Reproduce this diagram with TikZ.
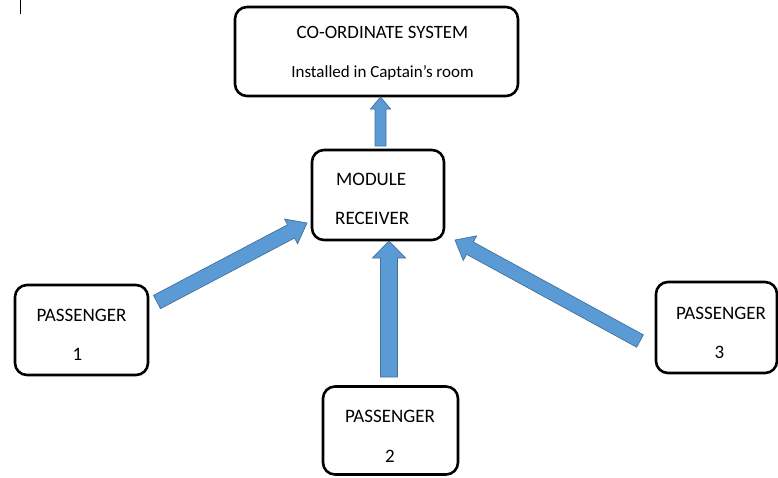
\documentclass[tikz,border=0pt]{standalone}
\usepackage{fontspec}
\setmainfont{Carlito}
\usetikzlibrary{calc}
\definecolor{arrowfill}{HTML}{5B9BD5}
\definecolor{arrowedge}{HTML}{41719C}
\tikzset{
  box/.style={draw=black, line width=2.6pt, rounded corners=12pt, fill=white, inner sep=0pt},
  lbl/.style={inner sep=0pt, anchor=base, font=\fontsize{19}{22}\selectfont},
  lblsmall/.style={inner sep=0pt, anchor=base, font=\fontsize{17}{20}\selectfont},
  blockarrow/.style={fill=arrowfill, draw=arrowedge, line width=0.7pt, line join=miter},
}
% #1 tail, #2 tip, #3 half shaft width, #4 half head width, #5 head length
\newcommand\blockarr[5]{%
  \coordinate (ba-n) at ($(#2)!#5!(#1)$);
  \draw[blockarrow] ($(#1)!#3!90:(#2)$) -- ($(ba-n)!#3!-90:(#1)$)
    -- ($(ba-n)!#4!-90:(#1)$) -- (#2) -- ($(ba-n)!#4!90:(#1)$)
    -- ($(ba-n)!#3!90:(#1)$) -- ($(#1)!#3!-90:(#2)$) -- cycle;}
\begin{document}
\begin{tikzpicture}[x=1pt,y=-1pt]
\useasboundingbox (0,0) rectangle (778,477);
% cursor mark
\draw[line width=1pt] (20,0) -- (20,14);
% boxes
\node[box, minimum width=283pt, minimum height=89pt] (coord) at (376.5,51.5) {};
\node[box, minimum width=132pt, minimum height=90pt] (module) at (378,195) {};
\node[box, minimum width=133pt, minimum height=90pt] (p1) at (81.5,330) {};
\node[box, minimum width=135pt, minimum height=88pt] (p2) at (390.5,430.5) {};
\node[box, minimum width=121pt, minimum height=91pt] (p3) at (716.5,327.5) {};
% texts
\node[lbl, font=\fontsize{18.8}{22}\selectfont] (t1) at (382.5,38.5) {CO-ORDINATE SYSTEM};
\node[lblsmall] (t2) at (382.5,77.5) {Installed in Captain’s room};
\node[lbl, anchor=base west] (t3) at (336,185) {MODULE};
\node[lbl, anchor=base west] (t4) at (335,224.5) {RECEIVER};
\node[lbl] (t5) at (81.5,321.5) {PASSENGER};
\node[lbl] (t6) at (77.5,360) {1};
\node[lbl] (t7) at (390,422) {PASSENGER};
\node[lbl] (t8) at (390,462) {2};
\node[lbl] (t9) at (721,319.5) {PASSENGER};
\node[lbl] (t10) at (719.5,358) {3};
% arrow end points
\coordinate (a0s) at (380.5,146);
\coordinate (a0e) at (380.5,97);
\coordinate (a2s) at (389,377);
\coordinate (a2e) at (389,241);
\coordinate (a1s) at (157,302);
\coordinate (a1e) at (307,223);
\coordinate (a3s) at (640,341);
\coordinate (a3e) at (455,240);
% arrows
\blockarr{a0s}{a0e}{5.5pt}{10pt}{12pt}
\blockarr{a2s}{a2e}{8.5pt}{16.5pt}{17pt}
\blockarr{a1s}{a1e}{7.5pt}{14pt}{18pt}
\blockarr{a3s}{a3e}{7pt}{14pt}{17pt}
\end{tikzpicture}
\end{document}
